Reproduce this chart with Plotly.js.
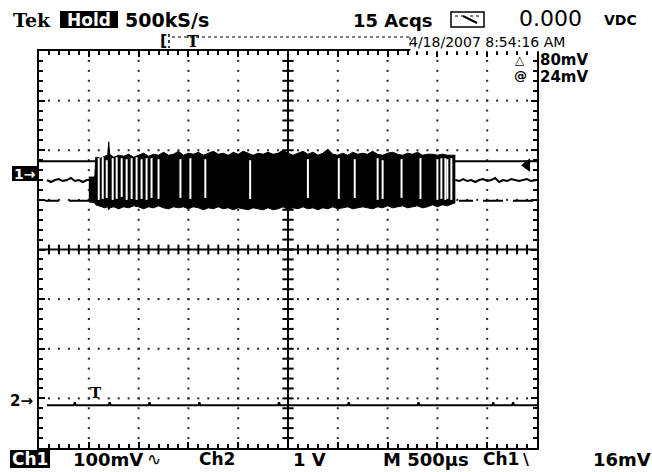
<!DOCTYPE html>
<html><head><meta charset="utf-8">
<script src="https://cdn.plot.ly/plotly-3.0.1.min.js"></script>
<style>html,body{margin:0;padding:0;background:#fff;} #chart{width:652px;height:472px;}</style>
</head><body><div id="chart"></div>
<script>
// ---- data (time in ms, 0.5 ms/div; vertical in screen divisions) ----
const burstT = [0.50,0.56,0.57,0.62,0.66,0.69,0.70,0.71,0.75,0.80,0.85,0.90,0.95,1.00,1.05,1.10,1.15,1.20,1.25,1.30,1.35,1.40,1.45,1.50,1.55,1.60,1.65,1.70,1.75,1.80,1.85,1.90,1.95,2.00,2.05,2.10,2.15,2.20,2.25,2.30,2.35,2.40,2.45,2.50,2.55,2.60,2.65,2.70,2.75,2.80,2.85,2.90,2.95,3.00,3.05,3.10,3.15,3.20,3.25,3.30,3.35,3.40,3.45,3.50,3.55,3.60,3.65,3.70,3.75,3.80,3.85,3.90,3.95,4.00,4.05,4.10,4.15,4.18];
const burstTop = [1.46,1.46,1.86,1.84,1.88,1.90,2.17,1.92,1.86,1.90,1.88,1.92,1.86,1.90,1.94,1.88,1.92,1.90,1.96,1.90,1.92,1.98,1.90,1.94,1.92,1.96,1.90,1.94,1.98,1.92,1.94,1.90,1.96,1.92,1.98,1.94,1.90,1.94,1.92,1.96,1.92,1.94,2.00,1.94,1.90,1.94,1.98,1.92,1.96,1.90,1.94,2.02,1.92,1.90,1.94,1.90,1.96,1.92,1.94,1.92,1.98,1.92,1.90,1.94,1.96,1.92,1.90,1.94,1.92,1.96,1.90,1.92,1.92,1.90,1.92,1.90,1.90,1.90];
const burstBot = [0.96,0.94,0.90,0.86,0.84,0.86,0.80,0.84,0.86,0.82,0.86,0.84,0.88,0.86,0.82,0.86,0.84,0.88,0.84,0.82,0.86,0.84,0.86,0.82,0.86,0.84,0.80,0.84,0.82,0.86,0.82,0.84,0.80,0.84,0.82,0.80,0.84,0.82,0.80,0.84,0.80,0.82,0.86,0.80,0.84,0.82,0.86,0.82,0.84,0.80,0.84,0.82,0.86,0.82,0.84,0.86,0.82,0.84,0.86,0.84,0.82,0.86,0.84,0.88,0.84,0.86,0.88,0.84,0.86,0.88,0.84,0.86,0.90,0.86,0.90,0.88,0.92,0.94];
const gapT = [0.60,0.64,0.68,0.74,0.78,0.83,0.88,0.93,0.98,1.03,1.08,1.13,1.20,1.42,1.52,1.67,2.12,2.70,3.01,3.17,3.40,3.45,3.64,3.83,4.00,4.04,4.08,4.10,4.14];
const gapTop = [1.84,1.86,1.80,1.84,1.86,1.84,1.82,1.84,1.86,1.82,1.84,1.84,1.82,1.82,1.84,1.82,1.80,1.82,1.84,1.82,1.84,1.80,1.82,1.84,1.82,1.84,1.84,1.82,1.84];
const gapBot = [1.00,1.02,1.04,1.00,1.02,1.06,1.00,1.02,1.00,1.02,1.00,1.04,1.02,1.04,1.02,1.04,1.02,1.04,1.02,1.04,1.00,1.02,1.04,1.02,1.00,1.02,1.00,1.02,1.00];
const ch1LT = [0.08,0.12,0.16,0.20,0.24,0.28,0.32,0.36,0.40,0.44,0.48,0.50];
const ch1LY = [1.40,1.36,1.40,1.42,1.38,1.40,1.44,1.38,1.40,1.36,1.40,1.40];
const ch1RT = [4.18,4.22,4.26,4.30,4.34,4.38,4.42,4.46,4.50,4.54,4.58,4.62,4.66,4.70,4.74,4.78,4.82,4.86,4.90,4.94,5.00];
const ch1RY = [1.40,1.38,1.42,1.38,1.40,1.36,1.40,1.42,1.38,1.40,1.44,1.36,1.40,1.38,1.42,1.40,1.38,1.40,1.42,1.38,1.40];
const ch2T = [0.08,0.20,0.35,0.36,0.37,0.50,0.70,0.71,0.72,0.90,1.10,1.11,1.12,1.40,1.60,1.61,1.62,2.00,2.40,2.41,2.42,2.80,3.10,3.11,3.12,3.50,3.80,3.81,3.82,4.20,4.55,4.56,4.57,4.75,4.76,4.77,5.00];
const ch2Y = [-3.14,-3.14,-3.14,-3.08,-3.14,-3.14,-3.14,-3.08,-3.14,-3.14,-3.14,-3.08,-3.14,-3.14,-3.14,-3.08,-3.14,-3.14,-3.14,-3.08,-3.14,-3.14,-3.14,-3.08,-3.14,-3.14,-3.14,-3.08,-3.14,-3.14,-3.14,-3.08,-3.14,-3.14,-3.08,-3.14,-3.14];
const cursorA = 1.78;   // solid cursor
const cursorB = 0.98;   // dashed cursor (80 mV below)
const trigLevel = 1.70;
const trigT = 4.90;

// ---- graticule ----
const gx = [], gy = [];
for (let i = 1; i <= 9; i++) { if (i === 5) continue; for (let k = -19; k <= 19; k++) { gx.push(i * 0.5); gy.push(k * 0.2); } }
for (let j = -3; j <= 3; j++) { if (j === 0) continue; for (let k = 1; k <= 49; k++) { gx.push(k * 0.1); gy.push(j); } }
const cx = [], cy = [], vx = [], vy = [];
for (let k = 1; k <= 49; k++) { cx.push(k * 0.1); cy.push(0); }
for (let k = -19; k <= 19; k++) { vx.push(2.5); vy.push(k * 0.2); }

const gapX = [], gapY = [];
gapT.forEach((t, i) => { gapX.push(t, t, null); gapY.push(gapTop[i], gapBot[i], null); });

const K = 'black';
const traces = [
  {x: gx, y: gy, mode: 'markers', marker: {symbol: 'square', size: 2, color: '#222'}, hoverinfo: 'skip'},
  {x: [0, 5], y: [0, 0], mode: 'lines', line: {color: K, width: 2}},
  {x: [2.5, 2.5], y: [-4, 4], mode: 'lines', line: {color: K, width: 2}},
  {x: cx, y: cy, mode: 'markers', marker: {symbol: 'line-ns', size: 7, line: {width: 2, color: K}}},
  {x: vx, y: vy, mode: 'markers', marker: {symbol: 'line-ew', size: 8, line: {width: 2, color: K}}},
  {x: [0, 5], y: [cursorA, cursorA], mode: 'lines', line: {color: K, width: 2}},
  {x: [0.06, 5], y: [cursorB, cursorB], mode: 'lines', line: {color: K, width: 2, dash: '14px,10px,20px,10px,20px,10px,20px,10px,20px,10px,20px,10px,20px,10px,20px,10px,20px,10px,20px,10px,20px,10px,20px,10px,20px,10px,20px,10px'}},
  {x: ch1LT, y: ch1LY, mode: 'lines', line: {color: K, width: 2}},
  {x: ch1RT, y: ch1RY, mode: 'lines', line: {color: K, width: 2}},
  {x: burstT, y: burstBot, mode: 'lines', line: {color: K, width: 1}},
  {x: burstT, y: burstTop, mode: 'lines', fill: 'tonexty', fillcolor: K, line: {color: K, width: 1}},
  {x: gapX, y: gapY, mode: 'lines', line: {color: 'white', width: 2}, connectgaps: false},
  {x: ch2T, y: ch2Y, mode: 'lines', line: {color: K, width: 2}},
  {x: [trigT], y: [trigLevel], mode: 'markers', marker: {symbol: 'triangle-left', size: 12, color: K}}
];

// pixel -> paper helpers for screen annotations
const PL = 39, PT = 51, PW = 498, PH = 397;
const fx = p => (p - PL) / PW, fy = p => (PT + PH - p) / PH;
const SANS = 'DejaVu Sans', SERIF = 'DejaVu Serif';
function ann(text, x, y, size, opt) {
  opt = opt || {};
  return {text: text, xref: 'paper', yref: 'paper', x: fx(x), y: fy(y), xanchor: opt.anchor || 'left', yanchor: 'middle',
    showarrow: false, font: {family: opt.family || SANS, size: size, color: opt.color || K}, borderpad: 0};
}
function rect(x0, y0, x1, y1, fill, lw) {
  return {type: 'rect', xref: 'paper', yref: 'paper', x0: fx(x0), x1: fx(x1), y0: fy(y1), y1: fy(y0),
    fillcolor: fill, line: {width: lw || 0, color: K}, layer: 'above'};
}
function seg(x0, y0, x1, y1, dash, w) {
  return {type: 'line', xref: 'paper', yref: 'paper', x0: fx(x0), x1: fx(x1), y0: fy(y0), y1: fy(y1),
    line: {color: K, width: w || 1, dash: dash || 'solid'}, layer: 'above'};
}

const annotations = [
  ann('<b>Tek</b>', 12, 20, 19, {family: SERIF}),
  ann('<b>Hold</b>', 89, 20, 17, {anchor: 'center', color: 'white'}),
  ann('<b>500kS/s</b>', 124, 20, 19),
  ann('<b>15 Acqs</b>', 352, 20, 18),
  ann('0.000', 518, 19, 22),
  ann('<b>VDC</b>', 603, 20, 14),
  ann('4/18/2007 8:54:16 AM', 408, 42, 14),
  ann('<b>[</b>', 159, 40, 16),
  ann('<b>T</b>', 186, 41, 16, {family: SERIF}),
  ann('<b>△</b>', 514, 60, 12),
  ann('<b>80mV</b>', 539, 60, 15),
  ann('<b>@</b>', 513, 76, 13),
  ann('<b>24mV</b>', 539, 77, 15),
  ann('<b>1→</b>', 24.5, 174, 14, {anchor: 'center', color: 'white'}),
  ann('<b>2→</b>', 9, 401, 15),
  ann('<b>T</b>', 89, 393, 15, {family: SERIF}),
  ann('<b>Ch1</b>', 30, 459, 17, {anchor: 'center', color: 'white'}),
  ann('<b>100mV</b>', 72, 459, 18),
  ann('∿', 146, 459, 17),
  ann('<b>Ch2</b>', 198, 459, 17),
  ann('<b>1 V</b>', 292, 459, 18),
  ann('<b>M 500µs</b>', 382, 459, 18),
  ann('<b>Ch1</b>', 482, 459, 17),
  ann('<b>\\</b>', 522, 459, 16),
  ann('<b>16mV</b>', 592, 459, 18)
];

const shapes = [
  rect(410, 47.5, 541, 51.2, 'white', 0),
  rect(60, 11, 118, 28, K, 0),
  rect(12, 166, 37, 181, K, 0),
  rect(10, 450, 50, 468, K, 0),
  seg(169, 34, 169, 48, 'dot', 1.5),
  seg(172, 37, 410, 37, 'dot', 1),
  seg(410, 37, 410, 50, 'dot', 1),
  rect(451, 12, 484, 27, 'rgba(0,0,0,0)', 1.5),
  seg(455, 16, 463, 16, 'dot', 1),
  seg(463, 16, 477, 23, 'solid', 2),
  seg(470, 16, 481, 16, 'dot', 1)
];

const axisBase = {showgrid: false, zeroline: false, showline: true, linewidth: 2, linecolor: K, mirror: 'ticks',
  ticks: 'inside', ticklen: 6, tickwidth: 2, tickcolor: K, showticklabels: false, fixedrange: true};
const layout = {
  width: 652, height: 472, margin: {l: PL, r: 652 - PL - PW, t: PT, b: 472 - PT - PH},
  paper_bgcolor: 'white', plot_bgcolor: 'white', showlegend: false,
  xaxis: Object.assign({}, axisBase, {range: [0, 5], tick0: 0, dtick: 0.5,
    minor: {dtick: 0.1, ticks: 'inside', ticklen: 4, tickwidth: 2, tickcolor: K, showgrid: false}}),
  yaxis: Object.assign({}, axisBase, {range: [-4, 4], tick0: 0, dtick: 1,
    minor: {dtick: 0.2, ticks: 'inside', ticklen: 4, tickwidth: 2, tickcolor: K, showgrid: false}}),
  annotations: annotations, shapes: shapes
};
Plotly.newPlot('chart', traces, layout, {staticPlot: true, displayModeBar: false});
</script></body></html>
